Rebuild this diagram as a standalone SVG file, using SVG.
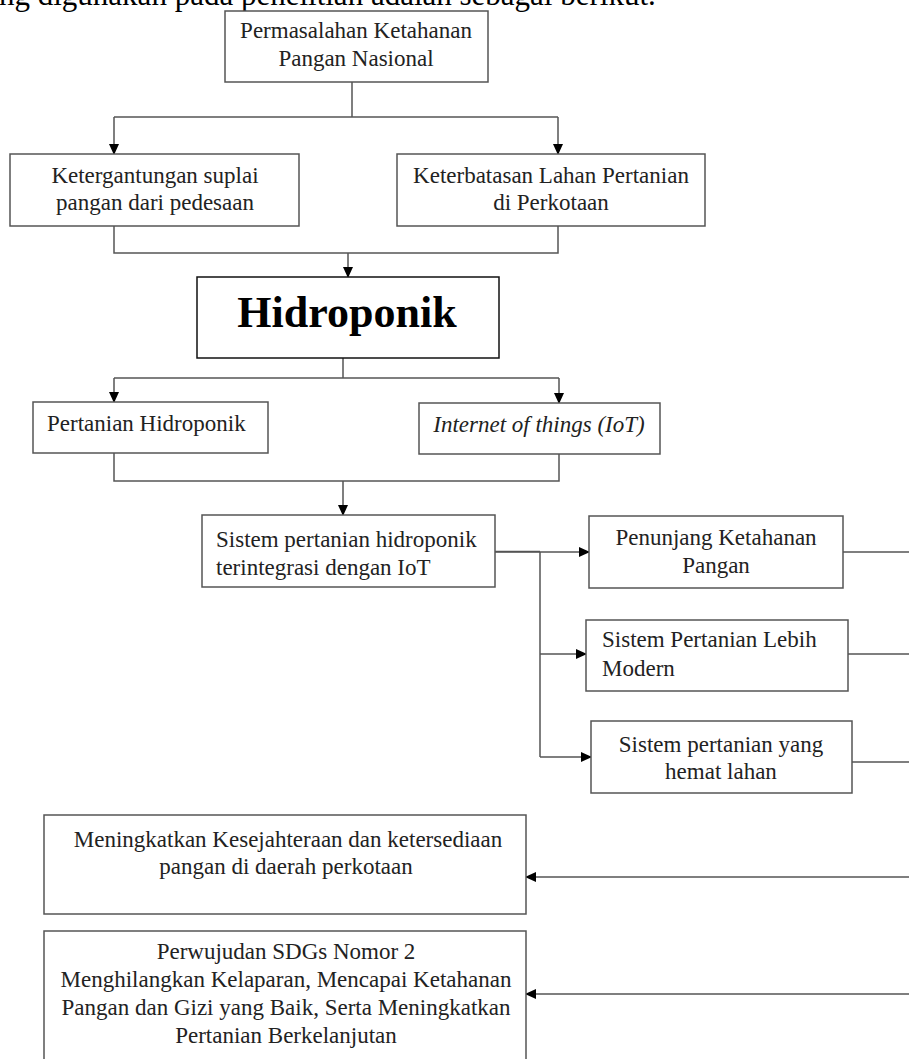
<svg xmlns="http://www.w3.org/2000/svg" width="909" height="1059" viewBox="0 0 909 1059">
<style>
  .box { fill: #ffffff; stroke: #555555; stroke-width: 1.5; }
  .boxb { fill: #ffffff; stroke: #111111; stroke-width: 1.5; }
  .t { font-family: "Liberation Serif", "Times New Roman", serif; font-size: 23px; fill: #222222; }
  .c { text-anchor: middle; }
  .big { font-family: "Liberation Serif", "Times New Roman", serif; font-size: 44px; font-weight: bold; fill: #000000; text-anchor: middle; }
  .conn { fill: none; stroke: #555555; stroke-width: 1.5; }
  .arr { marker-end: url(#ah); }
</style>
<defs>
  <marker id="ah" markerUnits="userSpaceOnUse" markerWidth="11" markerHeight="10" refX="10" refY="5" orient="auto">
    <path d="M0,0 L11,5 L0,10 z" fill="#000000"/>
  </marker>
</defs>
<rect width="909" height="1059" fill="#ffffff"/>
<text x="-1" y="5" font-family="Liberation Serif, Times New Roman, serif" font-size="31" fill="#000000">ng digunakan pada penelitian adalah sebagai berikut.</text>

<g id="connectors">
  <path class="conn" d="M352,82 V117 M114,117 H558"/>
  <path class="conn arr" d="M114,117 V154"/>
  <path class="conn arr" d="M558,117 V154"/>
  <path class="conn" d="M114,226 V253 H558 V226"/>
  <path class="conn arr" d="M348,253 V277"/>
  <path class="conn" d="M343,358 V378 M114,378 H559"/>
  <path class="conn arr" d="M114,378 V402"/>
  <path class="conn arr" d="M559,378 V403"/>
  <path class="conn" d="M114,453 V481 H559 V454"/>
  <path class="conn arr" d="M343,481 V515"/>
  <path class="conn" d="M495,551.5 H540" stroke="#333333" stroke-width="3"/>
  <path class="conn arr" d="M495,552 H589"/>
  <path class="conn" d="M540,552 V757"/>
  <path class="conn arr" d="M540,654 H586"/>
  <path class="conn arr" d="M540,757 H591"/>
  <path class="conn" d="M843,552 H909"/>
  <path class="conn" d="M848,654 H909"/>
  <path class="conn" d="M852,762 H909"/>
  <path class="conn arr" d="M909,877 H526"/>
  <path class="conn arr" d="M909,994 H526"/>
</g>

<g id="n-permasalahan">
  <rect class="box" x="225" y="11" width="263" height="71"/>
  <text class="t c" x="356" y="38">Permasalahan Ketahanan</text>
  <text class="t c" x="356" y="66">Pangan Nasional</text>
</g>
<g id="n-ketergantungan">
  <rect class="box" x="10" y="154" width="289" height="72"/>
  <text class="t c" x="155" y="183">Ketergantungan suplai</text>
  <text class="t c" x="155" y="210">pangan dari pedesaan</text>
</g>
<g id="n-keterbatasan">
  <rect class="box" x="397" y="154" width="308" height="72"/>
  <text class="t c" x="551" y="183">Keterbatasan Lahan Pertanian</text>
  <text class="t c" x="551" y="210">di Perkotaan</text>
</g>
<g id="n-hidroponik">
  <rect class="boxb" x="197" y="277" width="302" height="81"/>
  <text class="big" x="347" y="327">Hidroponik</text>
</g>
<g id="n-pertanian-hidroponik">
  <rect class="box" x="33" y="402" width="235" height="51"/>
  <text class="t" x="47" y="431">Pertanian Hidroponik</text>
</g>
<g id="n-iot">
  <rect class="box" x="419" y="403" width="241" height="51"/>
  <text class="t c" x="539" y="432" font-style="italic">Internet of things (IoT)</text>
</g>
<g id="n-sistem-terintegrasi">
  <rect class="box" x="202" y="515" width="293" height="72"/>
  <text class="t" x="216" y="547">Sistem pertanian hidroponik</text>
  <text class="t" x="216" y="575">terintegrasi dengan IoT</text>
</g>
<g id="n-penunjang">
  <rect class="box" x="589" y="516" width="254" height="72"/>
  <text class="t c" x="716" y="545">Penunjang Ketahanan</text>
  <text class="t c" x="716" y="573">Pangan</text>
</g>
<g id="n-modern">
  <rect class="box" x="586" y="620" width="262" height="71"/>
  <text class="t" x="602" y="647">Sistem Pertanian Lebih</text>
  <text class="t" x="602" y="676">Modern</text>
</g>
<g id="n-hemat-lahan">
  <rect class="box" x="591" y="721" width="261" height="72"/>
  <text class="t c" x="721" y="752">Sistem pertanian yang</text>
  <text class="t c" x="721" y="779">hemat lahan</text>
</g>
<g id="n-kesejahteraan">
  <rect class="box" x="44" y="815" width="482" height="99"/>
  <text class="t c" x="288" y="847">Meningkatkan Kesejahteraan dan ketersediaan</text>
  <text class="t c" x="286" y="874">pangan di daerah perkotaan</text>
</g>
<g id="n-sdgs">
  <rect class="box" x="44" y="931" width="482" height="140"/>
  <text class="t c" x="286" y="959">Perwujudan SDGs Nomor 2</text>
  <text class="t c" x="286" y="987">Menghilangkan Kelaparan, Mencapai Ketahanan</text>
  <text class="t c" x="286" y="1015">Pangan dan Gizi yang Baik, Serta Meningkatkan</text>
  <text class="t c" x="286" y="1043">Pertanian Berkelanjutan</text>
</g>
</svg>
